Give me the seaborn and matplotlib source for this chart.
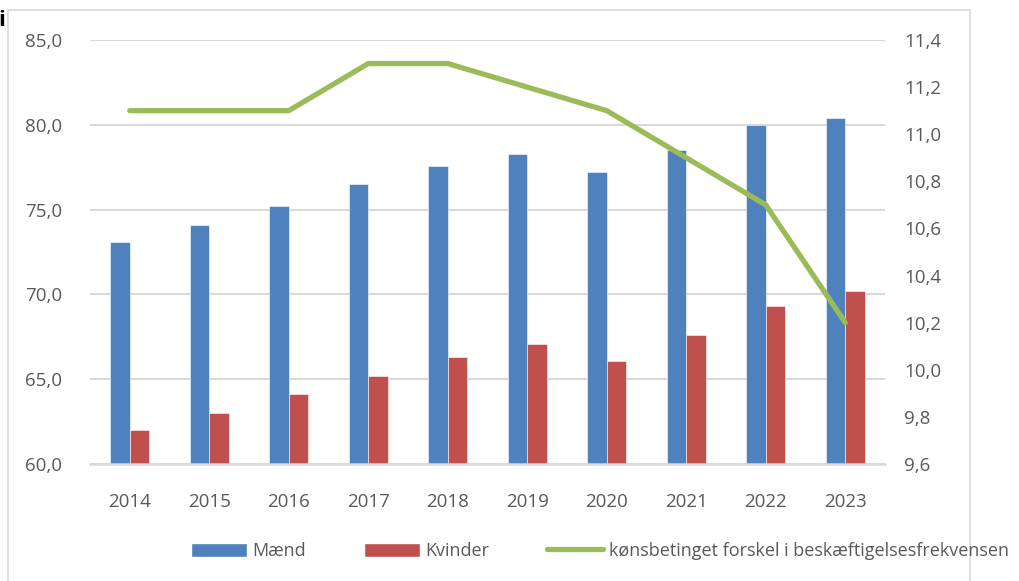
import numpy as np
import pandas as pd
import matplotlib
matplotlib.use("Agg")
import matplotlib.pyplot as plt
from matplotlib.ticker import FuncFormatter, MultipleLocator
from matplotlib.patches import Patch, Rectangle
from matplotlib.lines import Line2D
import seaborn as sns

# Data
years = ["2014", "2015", "2016", "2017", "2018", "2019", "2020", "2021", "2022", "2023"]
maend = [73.1, 74.1, 75.2, 76.5, 77.6, 78.3, 77.2, 78.5, 80.0, 80.4]
kvinder = [62.0, 63.0, 64.1, 65.2, 66.3, 67.1, 66.1, 67.6, 69.3, 70.2]
forskel = [11.1, 11.1, 11.1, 11.3, 11.3, 11.2, 11.1, 10.9, 10.7, 10.2]
series_names = ["Mænd", "Kvinder"]
line_name = "kønsbetinget forskel i beskæftigelsesfrekvensen"

blue = "#4f81bd"
red = "#c0504d"
green = "#9bbb59"
txt = "#595959"
grid = "#d9d9d9"

sns.set_theme(style="white")
plt.rcParams["font.family"] = ["Open Sans", "DejaVu Sans"]

df = pd.DataFrame({
    "year": years * 2,
    "value": maend + kvinder,
    "series": [series_names[0]] * len(years) + [series_names[1]] * len(years),
})

fig = plt.figure(figsize=(10.19, 5.81), dpi=100)
ax = fig.add_axes([90 / 1019, 1 - 464 / 581, 795 / 1019, 424 / 581])

sns.barplot(data=df, x="year", y="value", hue="series", order=years,
            hue_order=series_names, palette=[blue, red], saturation=1,
            width=0.49, edgecolor="white", linewidth=0.4, ax=ax, legend=False)

ax.set_ylim(60, 85)
ax.set_xlim(-0.5, len(years) - 0.5)
ax.yaxis.set_major_locator(MultipleLocator(5))
ax.yaxis.set_major_formatter(FuncFormatter(lambda v, p: f"{v:.1f}".replace(".", ",")))
ax.grid(axis="y", color=grid, linewidth=1.5)
ax.set_axisbelow(True)
for s in ["top", "right", "left"]:
    ax.spines[s].set_visible(False)
ax.spines["bottom"].set_color(grid)
ax.spines["bottom"].set_linewidth(1.8)
ax.set_xlabel("")
ax.set_ylabel("")
ax.tick_params(axis="both", length=0, labelsize=13.5, labelcolor=txt)
ax.tick_params(axis="x", pad=21)
ax.tick_params(axis="y", pad=20)

ax2 = ax.twinx()
ax2.plot(np.arange(len(years)), forskel, color=green, linewidth=3.8,
         solid_capstyle="round", solid_joinstyle="miter")
ax2.set_ylim(9.6, 11.4)
ax2.yaxis.set_major_locator(MultipleLocator(0.2))
ax2.yaxis.set_major_formatter(FuncFormatter(lambda v, p: f"{v:.1f}".replace(".", ",")))
for s in ["top", "right", "left", "bottom"]:
    ax2.spines[s].set_visible(False)
ax2.tick_params(axis="y", length=0, labelsize=13.5, labelcolor=txt, pad=14)
ax2.grid(False)

handles = [Patch(facecolor=blue, label=series_names[0]),
           Patch(facecolor=red, label=series_names[1]),
           Line2D([0], [0], color=green, linewidth=3.8, label=line_name)]
fig.legend(handles=handles, loc="center", bbox_to_anchor=(600 / 1019, 1 - 551 / 581),
           ncol=3, frameon=False, fontsize=13, handlelength=3.1, handleheight=0.8,
           handletextpad=0.3, columnspacing=3.2, labelcolor=txt)

# outer chart border and the clipped title remnant
fig.add_artist(Rectangle((8 / 1019, -0.1), 962 / 1019, 1.1 - 10 / 581,
                         transform=fig.transFigure, fill=False,
                         edgecolor=grid, linewidth=1.2))
fig.text(-0.002, 1 - 20 / 581, "i", fontsize=16, fontweight="bold", color="black",
         va="center", ha="left")

fig.savefig("out.png", dpi=100, facecolor="white")
